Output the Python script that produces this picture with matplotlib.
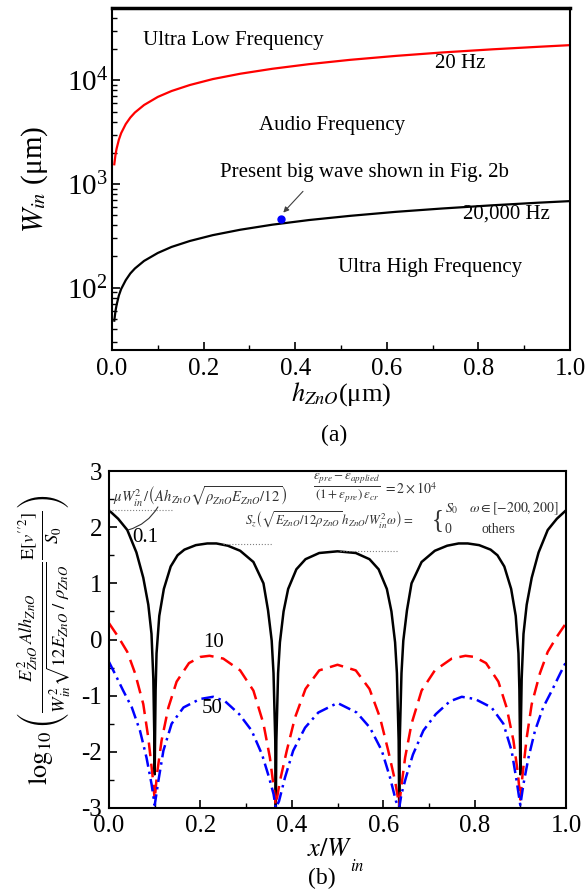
import matplotlib
matplotlib.use("Agg")
import matplotlib.pyplot as plt
from matplotlib.ticker import MultipleLocator, LogLocator, NullFormatter

plt.rcParams['font.family'] = ['Liberation Serif', 'DejaVu Serif']
plt.rcParams['mathtext.fontset'] = 'stix'
plt.rcParams['axes.unicode_minus'] = False

# ---- panel (a): critical width vs ZnO thickness ----
h_zno = [0.005, 0.0075, 0.01, 0.015, 0.02, 0.03, 0.04, 0.05, 0.07, 0.1, 0.13,
         0.17, 0.22, 0.28, 0.35, 0.43, 0.52, 0.62, 0.72, 0.83, 0.93, 1.0]
w_20hz = [1550, 1900, 2190, 2680, 3100, 3790, 4380, 4900, 5790, 6930, 7900,
          9030, 10300, 11600, 12950, 14350, 15800, 17250, 18600, 19950, 21100, 21900]
w_20khz = [48, 59, 68, 84, 97, 118, 137, 153, 181, 216, 247,
           282, 321, 362, 405, 449, 493, 539, 580, 623, 660, 684]
present_h = [0.37]
present_w = [460]

# ---- panel (b): log10 of normalised mean square curvature ----
x_black = [0.000, 0.020, 0.040, 0.060, 0.075, 0.086, 0.093, 0.097, 0.0993, 0.100,
           0.1007, 0.102, 0.104, 0.110, 0.120, 0.135, 0.150, 0.165, 0.190, 0.215,
           0.235, 0.260, 0.287, 0.316, 0.338, 0.348, 0.356, 0.360, 0.3638, 0.365,
           0.3662, 0.370, 0.374, 0.382, 0.392, 0.410, 0.430, 0.460, 0.500, 0.540,
           0.570, 0.590, 0.608, 0.618, 0.626, 0.630, 0.6338, 0.635, 0.6362, 0.640,
           0.644, 0.652, 0.662, 0.684, 0.713, 0.740, 0.765, 0.785, 0.810, 0.835,
           0.850, 0.865, 0.880, 0.890, 0.896, 0.898, 0.8993, 0.900, 0.9007, 0.903,
           0.907, 0.914, 0.925, 0.940, 0.960, 0.980, 1.000]
y_black = [2.30, 2.15, 1.95, 1.55, 1.10, 0.62, 0.10, -0.70, -1.80, -2.40,
           -1.80, -0.90, -0.25, 0.42, 0.90, 1.30, 1.50, 1.60, 1.68, 1.71,
           1.71, 1.67, 1.58, 1.38, 1.00, 0.52, -0.02, -0.60, -1.80, -3.05,
           -1.80, -0.60, -0.05, 0.50, 0.90, 1.25, 1.43, 1.54, 1.57, 1.54,
           1.43, 1.25, 0.90, 0.50, -0.05, -0.60, -1.80, -3.05, -1.80, -0.60,
           -0.02, 0.52, 1.00, 1.38, 1.58, 1.67, 1.71, 1.71, 1.68, 1.60,
           1.50, 1.30, 0.90, 0.42, -0.25, -0.90, -1.80, -2.40, -1.80, -0.70,
           0.10, 0.62, 1.10, 1.55, 1.95, 2.15, 2.30]

x_red = [0.000, 0.020, 0.040, 0.057, 0.075, 0.086, 0.095, 0.100, 0.105, 0.115,
         0.130, 0.148, 0.175, 0.200, 0.220, 0.250, 0.287, 0.316, 0.338, 0.352,
         0.360, 0.365, 0.374, 0.389, 0.407, 0.430, 0.460, 0.500, 0.540, 0.570,
         0.593, 0.611, 0.626, 0.635, 0.640, 0.648, 0.662, 0.684, 0.713, 0.750,
         0.780, 0.800, 0.825, 0.852, 0.870, 0.885, 0.895, 0.900, 0.905, 0.914,
         0.925, 0.943, 0.960, 0.980, 1.000]
y_red = [0.29, 0.05, -0.22, -0.60, -1.15, -1.75, -2.40, -2.85, -2.40, -1.80,
         -1.21, -0.75, -0.42, -0.31, -0.29, -0.34, -0.55, -0.91, -1.50, -2.10,
         -2.60, -2.95, -2.52, -1.98, -1.39, -0.88, -0.55, -0.45, -0.55, -0.88,
         -1.39, -1.98, -2.52, -2.95, -2.60, -2.10, -1.50, -0.91, -0.55, -0.34,
         -0.29, -0.31, -0.42, -0.75, -1.21, -1.80, -2.40, -2.85, -2.40, -1.75,
         -1.15, -0.60, -0.22, 0.05, 0.29]

x_blue = [0.000, 0.013, 0.031, 0.050, 0.068, 0.082, 0.093, 0.100, 0.108, 0.119,
          0.137, 0.163, 0.199, 0.228, 0.254, 0.285, 0.312, 0.335, 0.350, 0.360,
          0.365, 0.372, 0.385, 0.403, 0.429, 0.458, 0.500, 0.542, 0.571, 0.597,
          0.615, 0.628, 0.635, 0.640, 0.650, 0.665, 0.688, 0.715, 0.746, 0.772,
          0.801, 0.837, 0.863, 0.881, 0.892, 0.900, 0.907, 0.918, 0.932, 0.950,
          0.969, 0.987, 1.000]
y_blue = [-0.40, -0.61, -0.91, -1.21, -1.63, -2.10, -2.57, -2.95, -2.52, -1.98,
          -1.50, -1.21, -1.06, -1.02, -1.10, -1.33, -1.62, -2.05, -2.45, -2.75,
          -3.00, -2.88, -2.46, -1.98, -1.57, -1.30, -1.13, -1.30, -1.57, -1.98,
          -2.46, -2.88, -3.00, -2.75, -2.45, -2.05, -1.62, -1.33, -1.10, -1.02,
          -1.06, -1.21, -1.50, -1.98, -2.52, -2.95, -2.57, -2.10, -1.63, -1.21,
          -0.91, -0.61, -0.40]

# dotted guide lines (level, x start, x end)
guide_y = [2.30, 1.70, 1.58]
guide_x0 = [0.0, 0.249, 0.505]
guide_x1 = [0.14, 0.359, 0.632]

fig = plt.figure(figsize=(5.87, 8.91), dpi=100)

# ================= panel (a) =================
ax1 = fig.add_axes([112/587, 1-350/891, 458/587, 342/891])
ax1.plot(h_zno, w_20hz, color='#ff0000', lw=1.6)
ax1.plot(h_zno, w_20khz, color='black', lw=1.6)
ax1.plot(present_h, present_w, 'o', color='#0000ff', ms=5)
ax1.set_yscale('log')
ax1.set_xlim(0, 1.0)
ax1.set_ylim(25, 5e4)
ax1.xaxis.set_major_locator(MultipleLocator(0.2))
ax1.xaxis.set_minor_locator(MultipleLocator(0.1))
ax1.yaxis.set_major_locator(LogLocator(base=10, numticks=10))
ax1.yaxis.set_minor_locator(LogLocator(base=10, subs=range(2, 10), numticks=20))
ax1.yaxis.set_minor_formatter(NullFormatter())
ax1.xaxis.set_major_formatter(plt.FuncFormatter(lambda v, p: f"{v:.1f}"))
ax1.tick_params(which='both', direction='in', top=False, right=False)
ax1.tick_params(which='major', length=6, width=1.2)
ax1.tick_params(which='minor', length=3.5, width=1.0)
ax1.tick_params(axis='x', labelsize=18, pad=6)
ax1.tick_params(axis='y', labelsize=21, pad=3)
for s in ax1.spines.values():
    s.set_linewidth(1.5)
ax1.spines['top'].set_linewidth(2.5)

ax1.set_ylabel(r'$W_{in}$ (μm)', fontsize=21)
ax1.yaxis.set_label_coords(-0.135, 0.5)
ax1.set_xlabel(r'$h_{ZnO}$(μm)', fontsize=19, labelpad=0)

txt_kw = dict(transform=ax1.transAxes, fontsize=15, ha='left', va='center')
ax1.text(0.068, 0.906, 'Ultra Low Frequency', **txt_kw)
ax1.text(0.705, 0.839, '20 Hz', **txt_kw)
ax1.text(0.321, 0.655, 'Audio Frequency', **txt_kw)
ax1.text(0.236, 0.520, 'Present big wave shown in Fig. 2b', **txt_kw)
ax1.text(0.766, 0.398, '20,000 Hz', **txt_kw)
ax1.text(0.493, 0.240, 'Ultra High Frequency', **txt_kw)
ax1.annotate('', xy=(0.374, 530), xytext=(0.417, 850),
             arrowprops=dict(arrowstyle='-|>', lw=0.8, color='0.25',
                             mutation_scale=8, shrinkA=0, shrinkB=0))

fig.text(0.569, 1-435/891, '(a)', fontsize=17, ha='center', va='center')

# ================= panel (b) =================
ax2 = fig.add_axes([109/587, 1-808/891, 457/587, 337/891])
ax2.plot(x_black, y_black, color='black', lw=1.8)
ax2.plot(x_red, y_red, color='#ff0000', lw=1.8, dashes=(5.5, 3))
ax2.plot(x_blue, y_blue, color='#0000ff', lw=1.8, dashes=(5, 2, 1, 2))
for gy, gx0, gx1 in zip(guide_y, guide_x0, guide_x1):
    ax2.plot([gx0, gx1], [gy, gy], color='0.5', lw=0.8, ls=':')
ax2.set_xlim(0, 1.0)
ax2.set_ylim(-3, 3)
ax2.xaxis.set_major_locator(MultipleLocator(0.2))
ax2.xaxis.set_minor_locator(MultipleLocator(0.1))
ax2.yaxis.set_major_locator(MultipleLocator(1))
ax2.yaxis.set_minor_locator(MultipleLocator(0.5))
ax2.xaxis.set_major_formatter(plt.FuncFormatter(lambda v, p: f"{v:.1f}"))
ax2.tick_params(which='both', direction='in', top=False, right=False)
ax2.tick_params(which='major', length=6, width=1.2)
ax2.tick_params(which='minor', length=3.5, width=1.0)
ax2.tick_params(axis='both', labelsize=18, pad=5)
for s in ax2.spines.values():
    s.set_linewidth(1.5)

ax2.set_ylabel(r'$\log_{10}\left(\frac{E_{ZnO}^{2}\,Alh_{ZnO}}{W_{in}^{2}\sqrt{12E_{ZnO}\ /\ \rho_{ZnO}}}'
               r'\frac{\mathrm{E}\left[v^{\prime\prime2}\right]}{S_0}\right)$', fontsize=19)
ax2.yaxis.set_label_coords(-0.078, 0.5)

ax2.text(0.05, 1.81, '0.1', fontsize=15, ha='left', va='center')
ax2.text(0.228, -0.06, '10', fontsize=15, ha='center', va='center')
ax2.text(0.225, -1.22, '50', fontsize=15, ha='center', va='center')

eq_kw = dict(color='#333333', va='center')
ax2.text(0.009, 2.54, r'$\mu W_{in}^{2}\,/\left(Ah_{ZnO}\sqrt{\rho_{ZnO}E_{ZnO}/12}\right)$',
         ha='left', fontsize=10.5, **eq_kw)
ax2.text(0.446, 2.69, r'$\frac{\varepsilon_{pre}-\varepsilon_{applied}}{(1+\varepsilon_{pre})\,\varepsilon_{cr}}$',
         ha='left', fontsize=13.5, **eq_kw)
ax2.text(0.600, 2.69, r'$=2\times10^{4}$', ha='left', fontsize=10, **eq_kw)
ax2.text(0.298, 2.13, r'$S_z\left(\sqrt{E_{ZnO}/12\rho_{ZnO}}\,h_{ZnO}/W_{in}^{2}\omega\right)=$',
         ha='left', fontsize=9.2, **eq_kw)
ax2.text(0.707, 2.13, '{', fontsize=18, color='#333333', ha='left', va='center')
ax2.text(0.735, 2.33, r'$S_0$', ha='left', fontsize=10, **eq_kw)
ax2.text(0.788, 2.33, r'$\omega \in [-200, 200]$', ha='left', fontsize=10, **eq_kw)
ax2.text(0.735, 1.95, '0', ha='left', fontsize=10, **eq_kw)
ax2.text(0.816, 1.95, 'others', ha='left', fontsize=10, **eq_kw)
ax2.annotate('', xy=(0.042, 1.95), xytext=(0.107, 2.36),
             arrowprops=dict(arrowstyle='-', lw=0.8, color='0.2',
                             connectionstyle='arc3,rad=-0.2', shrinkA=0, shrinkB=0))

fig.text(330/587, 1-850/891, r'$x/W$', fontsize=19, ha='center', va='center')
fig.text(357/587, 1-867/891, r'$in$', fontsize=12, ha='center', va='center')
fig.text(322/587, 1-878/891, '(b)', fontsize=17, ha='center', va='center')

fig.savefig('out.png', dpi=100)
